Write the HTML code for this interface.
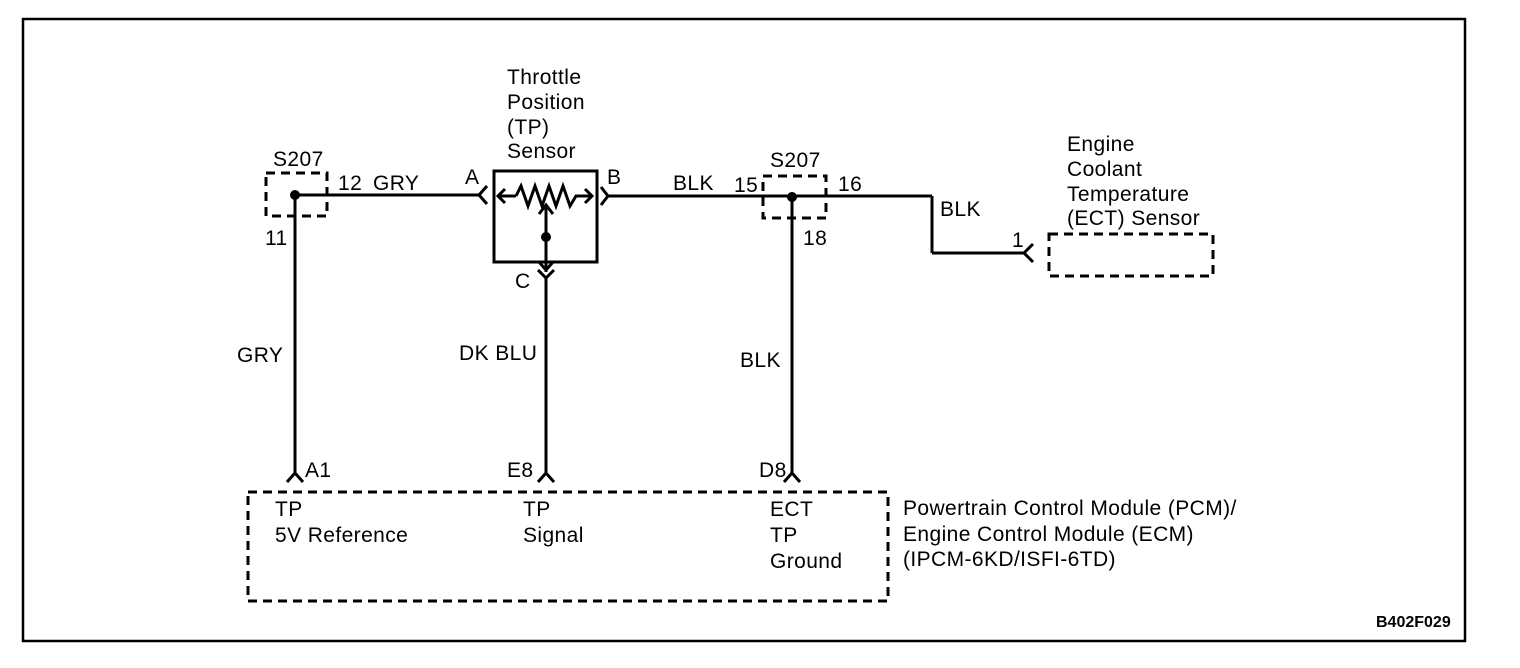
<!DOCTYPE html>
<html><head><meta charset="utf-8"><style>
html,body{margin:0;padding:0;background:#fff;}
svg{display:block;}
text{font-family:"Liberation Sans",Arial,sans-serif;font-size:21px;letter-spacing:0.4px;fill:#000;}
</style></head><body>
<svg width="1520" height="668" viewBox="0 0 1520 668" xmlns="http://www.w3.org/2000/svg">
<rect x="23" y="19" width="1442" height="622" fill="none" stroke="#000" stroke-width="2.5"/>
<g fill="none" stroke="#000" stroke-width="3">
<rect x="266" y="173" width="61" height="43" stroke-dasharray="9,6"/>
<line x1="295" y1="195" x2="481" y2="195"/>
<line x1="295" y1="195" x2="295" y2="474"/>
<path d="M487 186 L479 195 L487 204"/>
<rect x="494" y="171" width="103" height="91"/>
<line x1="498" y1="196" x2="516" y2="196"/>
<path d="M516 196 L521 186 L528 206 L535 186 L542 206 L549 186 L556 206 L563 186 L570 206 L576 196 L592 196"/>
<path d="M505 189 L498 196 L505 203"/>
<path d="M585 189 L592 196 L585 203"/>
<line x1="546" y1="205" x2="546" y2="272"/>
<path d="M539 214 L546 205 L553 214"/>
<path d="M539 262 L546 270 L553 262"/>
<path d="M538 270 L546 278 L554 270"/>
<line x1="546" y1="278" x2="546" y2="474"/>
<path d="M601 187 L608 196 L601 205"/>
<line x1="608" y1="196" x2="932" y2="196"/>
<rect x="763" y="176" width="63" height="42" stroke-dasharray="9,6"/>
<line x1="792" y1="197" x2="792" y2="474"/>
<line x1="932" y1="196" x2="932" y2="253"/>
<line x1="932" y1="253" x2="1025" y2="253"/>
<path d="M1033 244 L1024 253 L1033 262"/>
<rect x="1049" y="234" width="164" height="42" stroke-dasharray="9,6"/>
<path d="M287 482 L295 473 L303 482"/>
<path d="M538 482 L546 473 L554 482"/>
<path d="M784 482 L792 473 L800 482"/>
<rect x="248" y="492" width="640" height="109" stroke-dasharray="9,6"/>
</g>
<circle cx="295" cy="195" r="5"/>
<circle cx="792" cy="197" r="5"/>
<circle cx="546" cy="237" r="5"/>
<text x="507" y="84">Throttle</text>
<text x="507" y="109">Position</text>
<text x="507" y="134">(TP)</text>
<text x="507" y="158">Sensor</text>
<text x="273" y="166">S207</text>
<text x="338" y="190">12</text>
<text x="373" y="190">GRY</text>
<text x="265" y="245">11</text>
<text x="465" y="184">A</text>
<text x="607" y="184">B</text>
<text x="515" y="288">C</text>
<text x="673" y="190">BLK</text>
<text x="770" y="167">S207</text>
<text x="734" y="192">15</text>
<text x="838" y="191">16</text>
<text x="803" y="245">18</text>
<text x="940" y="216">BLK</text>
<text x="1012" y="247">1</text>
<text x="1067" y="151">Engine</text>
<text x="1067" y="176">Coolant</text>
<text x="1067" y="201">Temperature</text>
<text x="1067" y="225">(ECT) Sensor</text>
<text x="237" y="362">GRY</text>
<text x="459" y="360">DK BLU</text>
<text x="740" y="367">BLK</text>
<text x="305" y="477">A1</text>
<text x="507" y="477">E8</text>
<text x="759" y="477">D8</text>
<text x="275" y="516">TP</text>
<text x="275" y="542">5V Reference</text>
<text x="523" y="516">TP</text>
<text x="523" y="542">Signal</text>
<text x="770" y="516">ECT</text>
<text x="770" y="542">TP</text>
<text x="770" y="568">Ground</text>
<text x="903" y="515">Powertrain Control Module (PCM)/</text>
<text x="903" y="541">Engine Control Module (ECM)</text>
<text x="903" y="566">(IPCM-6KD/ISFI-6TD)</text>
<text x="1376" y="627" style="font-size:16px;font-weight:bold;letter-spacing:0">B402F029</text>
</svg>
</body></html>
